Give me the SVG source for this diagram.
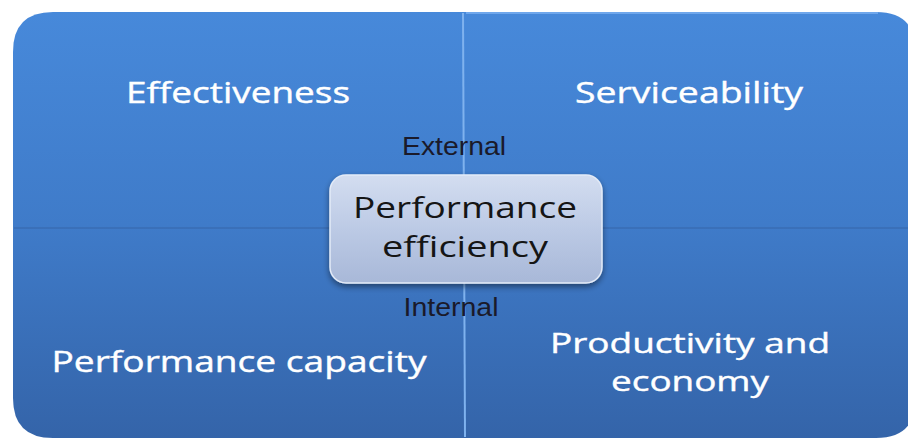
<svg xmlns="http://www.w3.org/2000/svg" width="908" height="440" viewBox="0 0 908 440">
  <style>
    .quad { fill: url(#qgrad); }
    .qtext { font-family: "Open Sans", "Liberation Sans", sans-serif; font-size: 30px; fill: #ffffff; stroke: #ffffff; stroke-width: 0.4; text-anchor: middle; }
    .qtext2 { font-size: 28px; }
    .label { font-family: "Liberation Sans", Arial, sans-serif; font-size: 25px; fill: #1a1a2a; text-anchor: middle; }
    .ctext { font-family: "Open Sans", "Liberation Sans", sans-serif; font-size: 29px; fill: #151515; text-anchor: middle; }
    .div { stroke: #7fb2ee; stroke-width: 2; fill: none; }
  </style>
  <defs>
    <linearGradient id="qgrad" gradientUnits="userSpaceOnUse" x1="0" y1="12" x2="0" y2="438">
      <stop offset="0" stop-color="#4789da"/>
      <stop offset="0.5" stop-color="#3f7bc9"/>
      <stop offset="1" stop-color="#3464a9"/>
    </linearGradient>
    <linearGradient id="cgrad" x1="0" y1="0" x2="0" y2="1">
      <stop offset="0" stop-color="#d3ddf0"/>
      <stop offset="0.5" stop-color="#bccae5"/>
      <stop offset="1" stop-color="#a8b8d8"/>
    </linearGradient>
    <filter id="shadow" x="-10%" y="-10%" width="120%" height="130%">
      <feGaussianBlur in="SourceAlpha" stdDeviation="3"/>
      <feOffset dx="0" dy="3" result="b"/>
      <feComponentTransfer><feFuncA type="linear" slope="0.45"/></feComponentTransfer>
      <feMerge><feMergeNode/><feMergeNode in="SourceGraphic"/></feMerge>
    </filter>
  </defs>

  <g id="effectiveness">
    <path class="quad" d="M13,52 Q13,12 53,12 L463,12 L463,228 L13,228 Z"/>
    <text class="qtext" x="238" y="103" textLength="224" lengthAdjust="spacingAndGlyphs">Effectiveness</text>
  </g>
  <g id="serviceability">
    <path class="quad" d="M463,12 L876,12 Q916,12 916,52 L916,228 L463,228 Z"/>
    <path d="M466,13 L878,13" stroke="#6fa7ec" stroke-width="2" fill="none"/>
    <text class="qtext" x="689" y="103" textLength="228" lengthAdjust="spacingAndGlyphs">Serviceability</text>
  </g>
  <g id="performance-capacity">
    <path class="quad" d="M13,228 L464,228 L464,438 L53,438 Q13,438 13,398 Z"/>
    <text class="qtext" x="239" y="372" textLength="375" lengthAdjust="spacingAndGlyphs">Performance capacity</text>
  </g>
  <g id="productivity-economy">
    <path class="quad" d="M464,228 L916,228 L916,398 Q916,438 876,438 L464,438 Z"/>
    <text class="qtext qtext2" x="690" y="353" textLength="280" lengthAdjust="spacingAndGlyphs">Productivity and</text>
    <text class="qtext qtext2" x="690" y="391" textLength="158" lengthAdjust="spacingAndGlyphs">economy</text>
  </g>

  <g id="connectors">
    <path class="div" d="M463,13 L465,437"/>
    <path d="M14,228 L915,228" stroke="#3a6db3" stroke-width="1.5" fill="none"/>
  </g>

  <g id="labels">
    <text class="label" x="454" y="155" textLength="104" lengthAdjust="spacingAndGlyphs">External</text>
    <text class="label" x="451" y="316" textLength="95" lengthAdjust="spacingAndGlyphs">Internal</text>
  </g>

  <g id="performance-efficiency">
    <rect x="330" y="175" width="272" height="108" rx="16" ry="16" fill="url(#cgrad)" stroke="#e4ebf7" stroke-width="1.5" filter="url(#shadow)"/>
    <text class="ctext" x="465" y="218" textLength="224" lengthAdjust="spacingAndGlyphs">Performance</text>
    <text class="ctext" x="465" y="257" textLength="166" lengthAdjust="spacingAndGlyphs">efficiency</text>
  </g>
</svg>
